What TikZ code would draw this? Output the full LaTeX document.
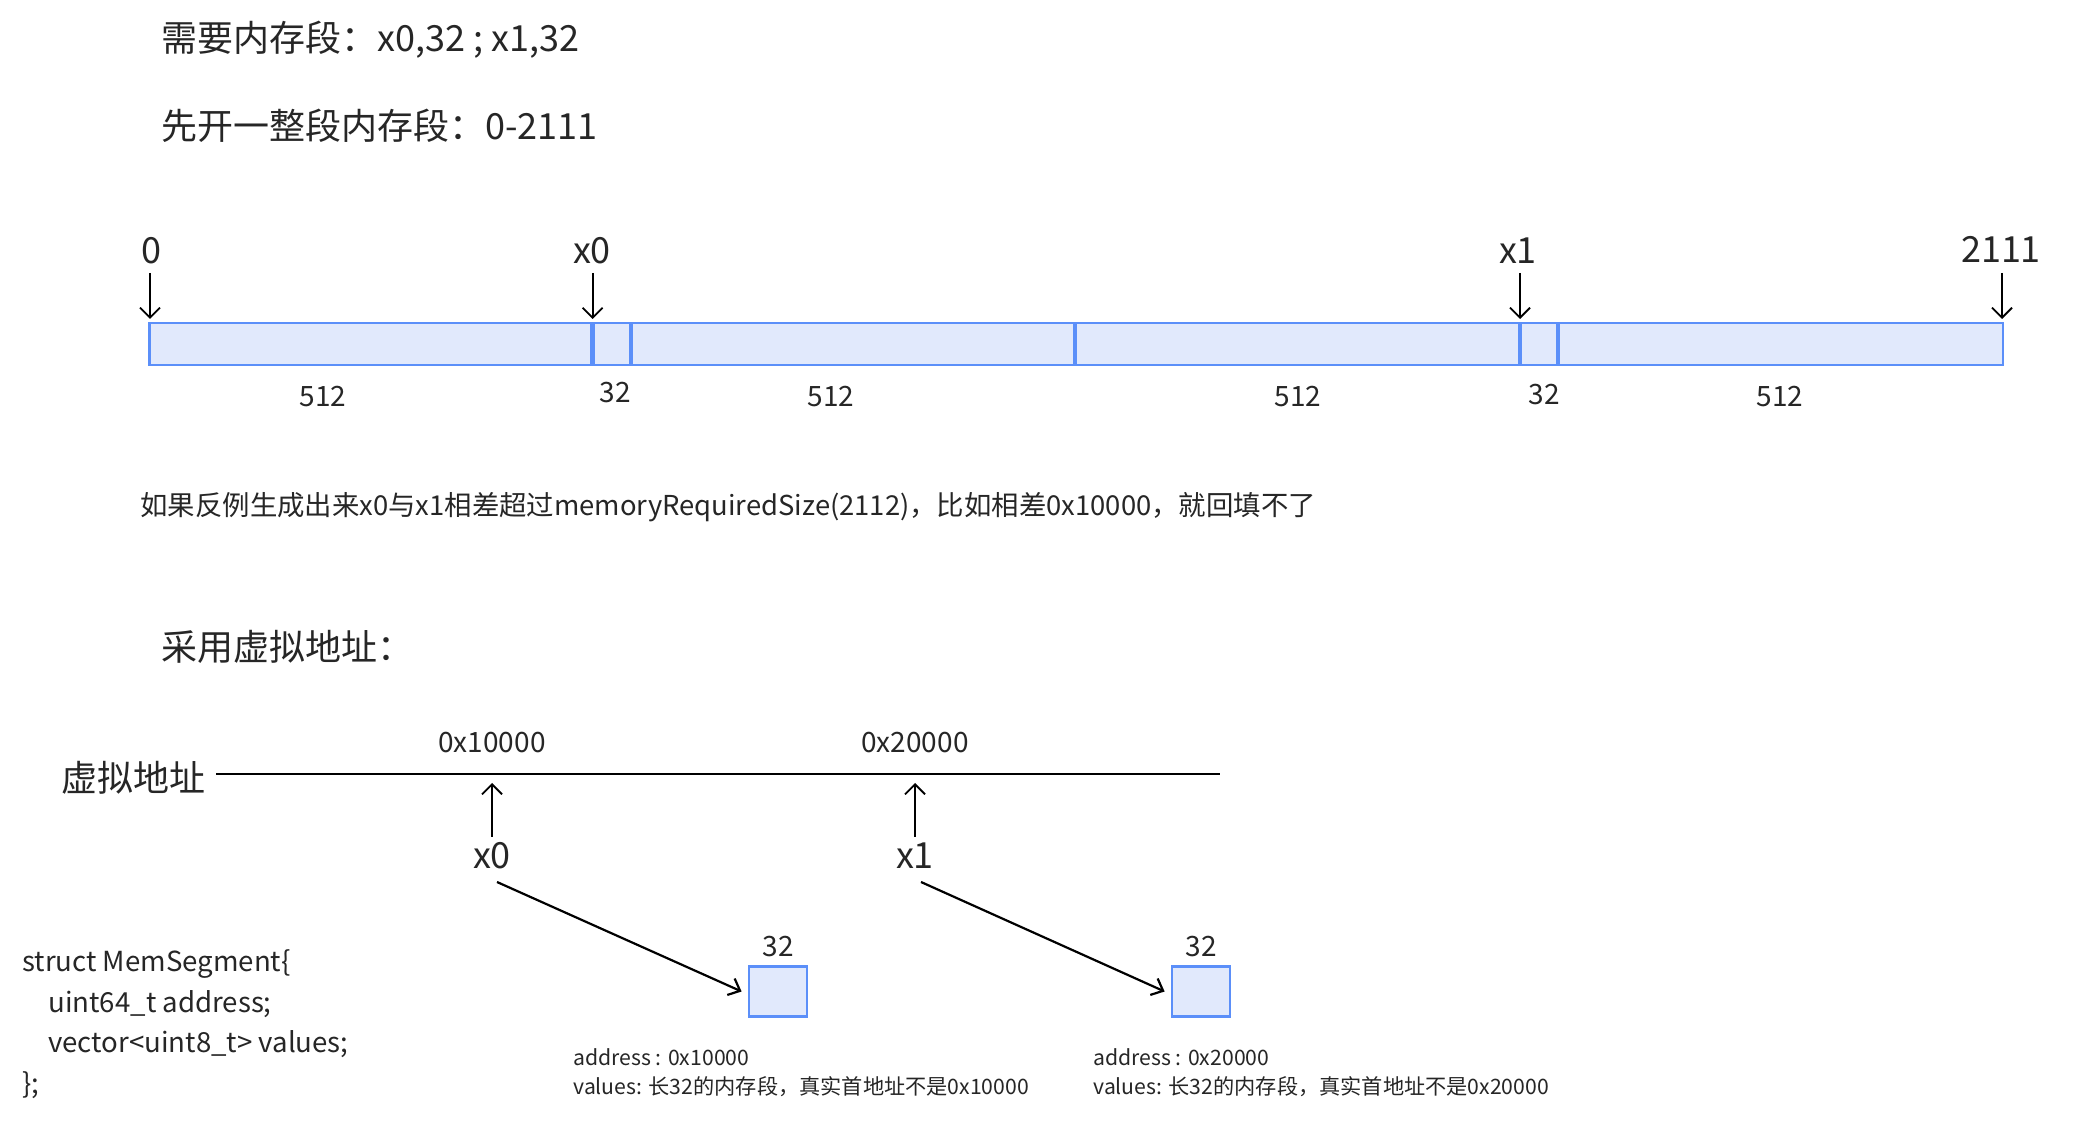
\documentclass[tikz,border=0pt]{standalone}
\usepackage{fontspec}
\setmainfont{Noto Sans CJK SC}
\usetikzlibrary{arrows.meta}
\definecolor{segfill}{HTML}{E1E9FC}
\definecolor{segline}{HTML}{5B8FF9}
\definecolor{txt}{HTML}{262626}
\begin{document}
\begin{tikzpicture}[x=0.5pt,y=-0.5pt,
  lbl/.style={inner sep=0pt, text=txt},
  txtbig/.style={lbl, font=\fontsize{18}{22}\selectfont},
  txtmid/.style={lbl, font=\fontsize{14}{17}\selectfont},
  txtnote/.style={lbl, font=\fontsize{13.7}{16}\selectfont},
  txtcode/.style={lbl, font=\fontsize{13.8}{17}\selectfont, anchor=west},
  txtsmall/.style={lbl, font=\fontsize{10.6}{13}\selectfont, anchor=west},
  arr/.style={-{Straight Barb[length=5pt,width=10pt]}, line width=0.9pt, black},
  darr/.style={-{Straight Barb[length=5pt,width=9pt]}, line width=1.1pt, black},
  seg/.style={draw=segline, fill=segfill, line width=1.4pt},
  divider/.style={draw=segline, line width=2.4pt},
  memblk/.style={draw=segline, fill=segfill, line width=1.4pt, minimum width=29pt, minimum height=25pt, inner sep=0pt},
]
\useasboundingbox (0,0) rectangle (2074,1127);
\fill[white] (0,0) rectangle (2074,1127);

% titles
\node[txtbig, anchor=west] (t1) at (161,40) {需要内存段：x0,32 ; x1,32};
\node[txtbig, anchor=west] (t2) at (161,126) {先开一整段内存段：0-2111};

% bar
\draw[seg] (149.5,323) rectangle (2003,365);
\foreach \xx in {592.6,631,1075,1520,1558} {\draw[divider] (\xx,323) -- (\xx,365);}
\coordinate (p0) at (150,319);
\coordinate (px0) at (592.6,319);
\coordinate (px1) at (1520,319);
\coordinate (pend) at (2002,319);

\node[txtbig] (l0) at (151,251) {0};
\node[txtbig] (lx0) at (592,251) {x0};
\node[txtbig] (lx1) at (1518,251) {x1};
\node[txtbig] (lend) at (2001,249) {2111};
\draw[arr] (p0 |- 0,273) -- (p0);
\draw[arr] (px0 |- 0,273) -- (px0);
\draw[arr] (px1 |- 0,273) -- (px1);
\draw[arr] (pend |- 0,273) -- (pend);

\node[txtmid] (s1) at (323,397) {512};
\node[txtmid] (s2) at (615,393) {32};
\node[txtmid] (s3) at (831,397) {512};
\node[txtmid] (s4) at (1298,397) {512};
\node[txtmid] (s5) at (1544,395) {32};
\node[txtmid] (s6) at (1780,397) {512};

% sentence
\node[txtnote, anchor=west] (note) at (140,507) {如果反例生成出来x0与x1相差超过memoryRequiredSize(2112)，比如相差0x10000，就回填不了};

% virtual address
\node[txtbig, anchor=west] (t3) at (161,647) {采用虚拟地址：};
\node[txtbig, anchor=west] (va) at (61,778) {虚拟地址};
\coordinate (vl1) at (216,774);
\coordinate (vl2) at (1220,774);
\draw[line width=1.3pt, black] (vl1) -- (vl2);

\node[txtmid] (a1) at (492,743) {0x10000};
\node[txtmid] (a2) at (915,743) {0x20000};

\node[txtbig] (x0) at (492,856) {x0};
\node[txtbig] (x1) at (915,856) {x1};
\draw[arr] (x0.north |- 0,837) -- (x0.north |- 0,783);
\draw[arr] (x1.north |- 0,837) -- (x1.north |- 0,783);

\node[memblk] (box1) at (778,991.5) {};
\node[memblk] (box2) at (1201,991.5) {};
\node[txtmid] (n1) at (778,947) {32};
\node[txtmid] (n2) at (1201,947) {32};

\draw[darr] (497,882) -- ([xshift=-3pt]box1.west);
\draw[darr] (921,882) -- ([xshift=-3pt]box2.west);

\node[txtsmall] (ad1) at (573,1057) {address : 0x10000};
\node[txtsmall] (vv1) at (573,1087) {values: 长32的内存段，真实首地址不是0x10000};
\node[txtsmall] (ad2) at (1093,1057) {address : 0x20000};
\node[txtsmall] (vv2) at (1093,1087) {values: 长32的内存段，真实首地址不是0x20000};

% struct
\node[txtcode] (c1) at (22,964) {struct MemSegment\{};
\node[txtcode] (c2) at (48,1004) {uint64\_t address;};
\node[txtcode] (c3) at (48,1044) {vector<uint8\_t> values;};
\node[txtcode] (c4) at (22,1085) {\};};
\end{tikzpicture}
\end{document}
